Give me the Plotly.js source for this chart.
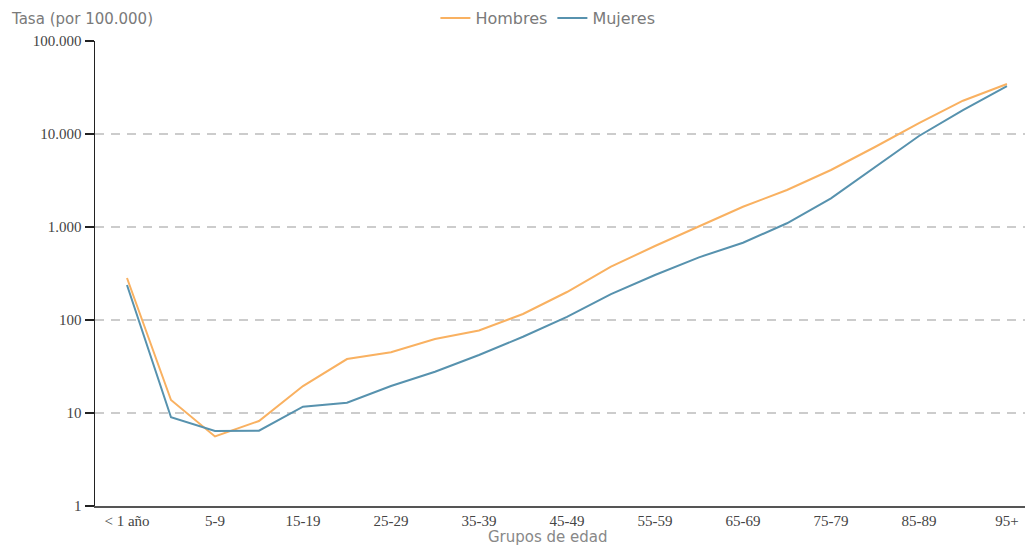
<!DOCTYPE html>
<html>
<head>
<meta charset="utf-8">
<script src="https://cdn.plot.ly/plotly-3.0.1.min.js"></script>
<style>html,body{margin:0;padding:0;background:#fff;}#chart{width:1028px;height:546px;}</style>
</head>
<body>
<div id="chart"></div>
<script>
const ageGroups = ["< 1 año","1-4","5-9","10-14","15-19","20-24","25-29","30-34","35-39","40-44","45-49","50-54","55-59","60-64","65-69","70-74","75-79","80-84","85-89","90-94","95+"];
const hombres = [283, 13.8, 5.6, 8.2, 19.5, 38, 45, 62.5, 77, 116, 200, 374, 625, 1025, 1650, 2500, 4100, 7250, 13100, 22800, 34500];
const mujeres = [238, 9.0, 6.4, 6.45, 11.7, 12.9, 19.5, 27.8, 42, 66, 108, 190, 305, 472, 678, 1097, 2035, 4450, 9520, 18100, 32800];
const xTickLabels = ["< 1 año","5-9","15-19","25-29","35-39","45-49","55-59","65-69","75-79","85-89","95+"];
const yTickVals = [1, 10, 100, 1000, 10000, 100000];
const yTickText = ["1", "10", "100", "1.000", "10.000", "100.000"];

const traces = [
  {x: ageGroups, y: hombres, name: "Hombres", type: "scatter", mode: "lines",
   line: {color: "#f9b161", width: 2}},
  {x: ageGroups, y: mujeres, name: "Mujeres", type: "scatter", mode: "lines",
   line: {color: "#5792ae", width: 2}}
];

const sans = "DejaVu Sans, sans-serif";
const serif = "Liberation Serif, Times New Roman, serif";

const layout = {
  width: 1028, height: 546,
  margin: {l: 95, r: 3, t: 41, b: 40},
  paper_bgcolor: "#fff", plot_bgcolor: "#fff",
  showlegend: true,
  legend: {orientation: "h", xref: "paper", x: 0.487, xanchor: "center",
           yref: "container", y: 0.967, yanchor: "middle",
           font: {family: sans, size: 16, color: "#7a7a7a"},
           itemwidth: 30, tracegroupgap: 0},
  xaxis: {
    type: "category",
    range: [-0.727, 20.41],
    tickmode: "array", tickvals: xTickLabels, ticktext: xTickLabels,
    showgrid: false, zeroline: false,
    showline: true, linecolor: "#555", linewidth: 1.5,
    ticks: "", ticklabelstandoff: 0,
    tickfont: {family: serif, size: 15, color: "#444"}
  },
  yaxis: {
    type: "log",
    range: [0, 5],
    tickmode: "array", tickvals: yTickVals, ticktext: yTickText,
    showgrid: true, gridcolor: "#cccccc", griddash: "9px,7px", gridwidth: 1.5,
    zeroline: false,
    showline: true, linecolor: "#222", linewidth: 1.5,
    ticks: "outside", ticklen: 9, tickcolor: "#222", tickwidth: 1.5,
    tickfont: {family: serif, size: 15, color: "#444"}
  },
  annotations: [
    {text: "Tasa (por 100.000)", xref: "paper", yref: "paper", x: -0.093, y: 1.047,
     xanchor: "left", yanchor: "middle", showarrow: false,
     font: {family: sans, size: 15, color: "#7a7a7a"}},
    {text: "Grupos de edad", xref: "paper", yref: "paper", x: 0.487, y: -0.066,
     xanchor: "center", yanchor: "middle", showarrow: false,
     font: {family: sans, size: 15, color: "#888"}}
  ]
};

Plotly.newPlot("chart", traces, layout, {displayModeBar: false, staticPlot: true});
</script>
</body>
</html>
